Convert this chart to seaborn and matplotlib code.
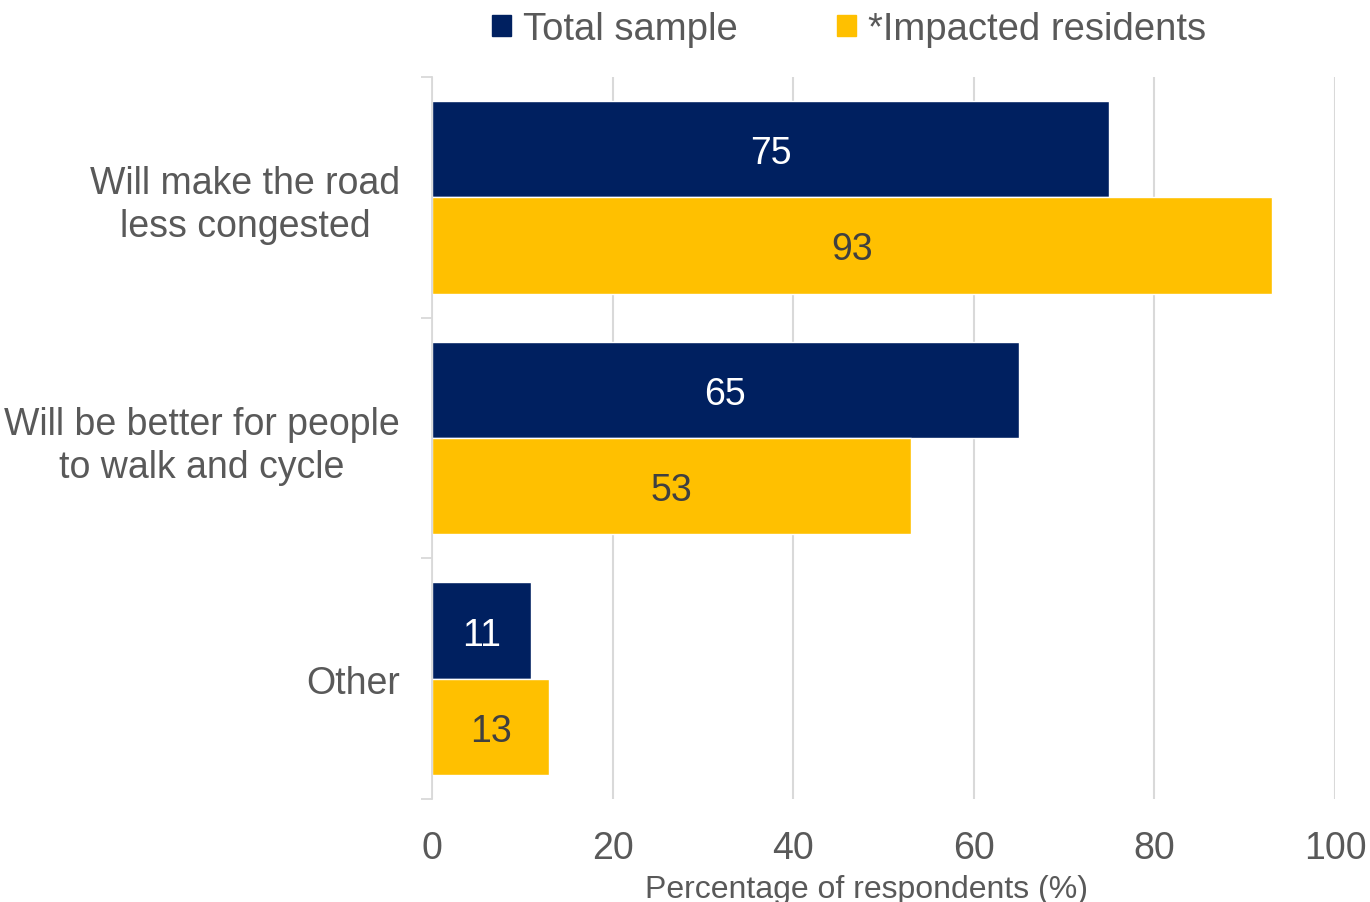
import matplotlib
matplotlib.use("Agg")
import matplotlib.pyplot as plt
import seaborn as sns
import pandas as pd
from matplotlib.ticker import FixedLocator

# Reasons given, with the share of respondents choosing each
categories = ["Will make the road\nless congested",
              "Will be better for people\nto walk and cycle",
              "Other"]
groups = ["Total sample", "*Impacted residents"]
total_sample = [75, 65, 11]
impacted_residents = [93, 53, 13]
x_ticks = [0, 20, 40, 60, 80, 100]

navy = "#002060"
gold = "#FFC000"
text_grey = "#595959"
grid_grey = "#D9D9D9"

df = pd.DataFrame({
    "category": categories * 2,
    "group": [groups[0]] * 3 + [groups[1]] * 3,
    "value": total_sample + impacted_residents,
})

sns.set_theme(style="white")
plt.rcParams["font.family"] = ["Liberation Sans", "DejaVu Sans"]

fig = plt.figure(figsize=(13.7, 9.03), dpi=100)
ax = fig.add_axes([432 / 1370, 1 - 800 / 903, (1335 - 432) / 1370, (800 - 78) / 903])

sns.barplot(data=df, y="category", x="value", hue="group", order=categories,
            hue_order=groups, palette=[navy, gold], orient="h", width=0.8,
            saturation=1, ax=ax, legend=True)

ax.set_xlim(0, 100)
ax.set_ylim(2.5, -0.5)

# Value labels in the middle of each bar
label_colors = ["white", "#404040"]
for cont, col in zip(ax.containers, label_colors):
    texts = ax.bar_label(cont, labels=[f"{v:g}" for v in cont.datavalues],
                         label_type="center", fontsize=27, color=col)
    for t in texts:
        t.set_verticalalignment("center_baseline")

# Axes styling
for side in ["top", "right", "bottom"]:
    ax.spines[side].set_visible(False)
ax.spines["left"].set_color(grid_grey)
ax.spines["left"].set_linewidth(1.3)

ax.set_xticks(x_ticks)
ax.set_xticklabels([str(t) for t in x_ticks])
ax.tick_params(axis="x", length=0, pad=22, labelsize=27, labelcolor=text_grey)
ax.xaxis.grid(True, color=grid_grey, linewidth=1.5)
ax.set_axisbelow(True)

ax.tick_params(axis="y", which="major", left=False, length=0, pad=23,
               labelsize=27, labelcolor=text_grey)
for lbl in ax.get_yticklabels():
    lbl.set_horizontalalignment("right")
    lbl.set_multialignment("center")
    lbl.set_linespacing(1.25)
ax.yaxis.set_minor_locator(FixedLocator([-0.5, 0.5, 1.5, 2.5]))
ax.tick_params(axis="y", which="minor", left=True, length=8, width=1.3,
               color=grid_grey, direction="out")

ax.set_ylabel("")
ax.set_xlabel("Percentage of respondents (%)", fontsize=23, color=text_grey)
ax.xaxis.set_label_coords(0.4817, -0.104)

# Legend across the top
ax.get_legend().remove()
handles = [plt.Rectangle((0, 0), 1, 1, color=c) for c in [navy, gold]]
fig.legend(handles, groups, loc="center", bbox_to_anchor=(849 / 1370, 1 - 30 / 903),
           ncol=2, frameon=False, fontsize=27.5, labelcolor=text_grey,
           handlelength=0.5, handleheight=0.5, handletextpad=0.3,
           columnspacing=2.6)

fig.savefig("out.png", dpi=100)
